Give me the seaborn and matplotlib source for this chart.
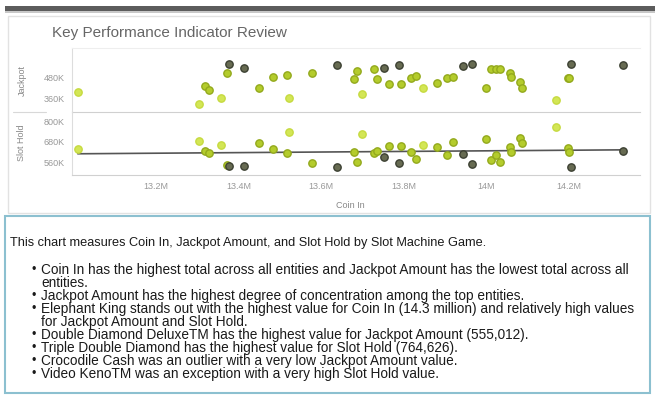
# Key Performance Indicator Review - scatter of slot machine games
import pandas as pd
import seaborn as sns
import matplotlib.pyplot as plt
from matplotlib.patches import Rectangle
from matplotlib.lines import Line2D
from matplotlib.ticker import FuncFormatter

# one entry per slot machine game
coin_in = [13.011, 13.304, 13.319, 13.328, 13.357, 13.372, 13.377, 13.413, 13.449, 13.483,
           13.517, 13.522, 13.578, 13.638, 13.679, 13.687, 13.699, 13.728, 13.735, 13.752,
           13.764, 13.788, 13.793, 13.817, 13.830, 13.846, 13.880, 13.905, 13.919, 13.943,
           13.965, 13.999, 14.011, 14.023, 14.033, 14.057, 14.060, 14.081, 14.086, 14.169,
           14.198, 14.200, 14.205, 14.331]  # millions
jackpot = [394, 326, 429, 406, 360, 503, 555, 531, 417, 480,
           491, 360, 503, 549, 469, 514, 383, 526, 469, 531,
           440, 549, 440, 474, 486, 417, 446, 474, 480, 543,
           555, 417, 526, 526, 526, 503, 480, 451, 417, 349,
           474, 476, 554, 549]  # thousands
slot_hold = [636, 683, 624, 613, 660, 540, 537, 537, 671, 636,
             613, 736, 554, 531, 619, 560, 724, 613, 624, 589,
             654, 554, 654, 619, 578, 660, 648, 601, 677, 607,
             548, 695, 572, 601, 560, 648, 619, 701, 671, 765,
             642, 619, 531, 624]  # thousands
shade = ["light", "light", "mid", "mid", "light", "mid", "dark", "dark", "mid", "mid",
         "mid", "light", "mid", "dark", "mid", "mid", "light", "mid", "mid", "dark",
         "mid", "dark", "mid", "mid", "mid", "light", "mid", "mid", "mid", "dark",
         "dark", "mid", "mid", "mid", "mid", "mid", "mid", "mid", "mid", "light",
         "mid", "mid", "dark", "dark"]

x_ticks = [13.2, 13.4, 13.6, 13.8, 14.0, 14.2]
jackpot_ticks = [360, 480]
slot_ticks = [560, 680, 800]

intro = "This chart measures Coin In, Jackpot Amount, and Slot Hold by Slot Machine Game."
bullets = [
    "Coin In has the highest total across all entities and Jackpot Amount has the lowest total across all\nentities.",
    "Jackpot Amount has the highest degree of concentration among the top entities.",
    "Elephant King stands out with the highest value for Coin In (14.3 million) and relatively high values\nfor Jackpot Amount and Slot Hold.",
    "Double Diamond DeluxeTM has the highest value for Jackpot Amount (555,012).",
    "Triple Double Diamond has the highest value for Slot Hold (764,626).",
    "Crocodile Cash was an outlier with a very low Jackpot Amount value.",
    "Video KenoTM was an exception with a very high Slot Hold value.",
]

df = pd.DataFrame({"coin_in": coin_in, "jackpot": jackpot,
                   "slot_hold": slot_hold, "shade": shade})

sns.set_style("white")
plt.rcParams["font.family"] = ["Liberation Sans", "DejaVu Sans"]

face = {"light": "#d3e655", "mid": "#b4cc2c", "dark": "#676b52"}
edge = {"light": "#c6da40", "mid": "#93a91c", "dark": "#3c4032"}

W, H = 655, 395
fig = plt.figure(figsize=(W / 100, H / 100), dpi=100)

def fx(px):
    return px / W

def fy(py):
    return 1 - py / H

# page decoration: dark top bar, chart card, text box (behind the axes)
fig.add_artist(Rectangle((fx(5), fy(11)), fx(650), 5 / H, color="#5c5c5c", lw=0, zorder=-5))
fig.add_artist(Rectangle((fx(5), fy(13)), fx(650), 2 / H, color="#c8c8c8", lw=0, zorder=-5))
fig.add_artist(Rectangle((fx(8), fy(213)), fx(642), 197 / H, fc="white", ec="#e2e2e2",
                         lw=1, zorder=-5))
fig.add_artist(Rectangle((fx(5), fy(393)), fx(645), 177 / H, fc="white", ec="#8cc0d0",
                         lw=1.5, zorder=-5))

fig.text(fx(52), fy(33), "Key Performance Indicator Review", fontsize=11,
         color="#666666", va="center")

ax_top = fig.add_axes([fx(72), fy(112), fx(568), 64 / H])
ax_bot = fig.add_axes([fx(72), fy(175), fx(568), 63 / H])

for t in ["light", "mid", "dark"]:
    sub = df[df["shade"] == t]
    sns.scatterplot(data=sub, x="coin_in", y="jackpot", ax=ax_top, color=face[t],
                    edgecolor=edge[t], linewidth=1, s=28, zorder=3, legend=False)
    sns.scatterplot(data=sub, x="coin_in", y="slot_hold", ax=ax_bot, color=face[t],
                    edgecolor=edge[t], linewidth=1, s=28, zorder=3, legend=False)

sns.regplot(data=df, x="coin_in", y="slot_hold", ax=ax_bot, scatter=False, ci=None,
            truncate=True, line_kws=dict(color="#555555", lw=1.2, zorder=2))

for ax in (ax_top, ax_bot):
    ax.set_xlim(12.997, 14.372)
    ax.set_xlabel("")
    ax.set_ylabel("")
    ax.patch.set_alpha(0)
    ax.spines["right"].set_visible(False)
    ax.spines["left"].set_color("#dddddd")
    ax.spines["bottom"].set_color("#d0d0d0")
    ax.tick_params(labelsize=6.5, labelcolor="#999999", color="#cccccc",
                   length=3, width=0.6, pad=2)

ax_top.set_ylim(280, 646)
ax_top.set_yticks(jackpot_ticks)
ax_top.spines["top"].set_color("#eeeeee")
ax_top.tick_params(axis="x", bottom=False, labelbottom=False)

ax_bot.set_ylim(484, 853)
ax_bot.set_yticks(slot_ticks)
ax_bot.spines["top"].set_visible(False)
ax_bot.set_xticks(x_ticks)

ax_top.yaxis.set_major_formatter(FuncFormatter(lambda v, p: f"{v:g}K"))
ax_bot.yaxis.set_major_formatter(FuncFormatter(lambda v, p: f"{v:g}K"))
ax_bot.xaxis.set_major_formatter(FuncFormatter(lambda v, p: f"{v:g}M"))

# row labels and x axis title
fig.text(fx(22), fy(80), "Jackpot", rotation=90, fontsize=6.5, color="#888888",
         ha="center", va="center")
fig.text(fx(22), fy(143), "Slot Hold", rotation=90, fontsize=6.5, color="#888888",
         ha="center", va="center")
fig.add_artist(Line2D([fx(13), fx(46)], [fy(112), fy(112)], color="#d8d8d8", lw=0.8))
fig.text(fx(350), fy(206), "Coin In", fontsize=6.5, color="#888888",
         ha="center", va="center")

# narrative text
fig.text(fx(10), fy(243), intro, fontsize=9.2, color="#1a1a1a", va="center")
fs = 9.8
y = 270
for b in bullets:
    fig.text(fx(32), fy(y), "\u2022", fontsize=fs - 1, color="#1a1a1a", va="center")
    lines = b.split("\n")
    for i, ln in enumerate(lines):
        fig.text(fx(41), fy(y + i * 13), ln, fontsize=fs, color="#1a1a1a", va="center")
    y += 13 * len(lines)

fig.savefig("out.png", dpi=100)
